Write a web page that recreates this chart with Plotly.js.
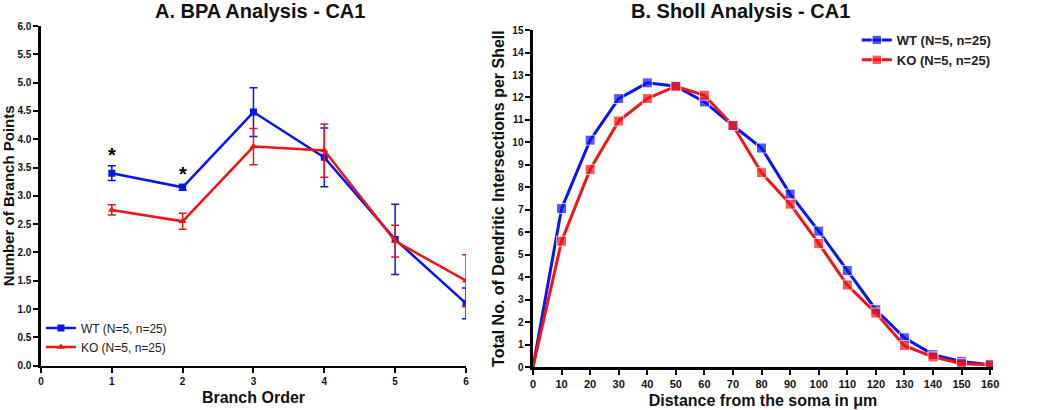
<!DOCTYPE html>
<html><head><meta charset="utf-8">
<script src="https://cdn.plot.ly/plotly-3.0.1.min.js"></script>
<style>html,body{margin:0;padding:0;background:#fff}#chart{width:1050px;height:410px}</style>
</head><body><div id="chart"></div>
<script>
// Panel A: Branch point analysis
const branchOrder = [1, 2, 3, 4, 5, 6];
const bpaWT = [3.40, 3.15, 4.48, 3.68, 2.23, 1.10];
const bpaWTerr = [0.13, 0.05, 0.43, 0.52, 0.62, 0.27];
const bpaKO = [2.75, 2.55, 3.87, 3.80, 2.20, 1.50];
const bpaKOerr = [0.09, 0.14, 0.32, 0.47, 0.28, 0.46];
const sigOrders = [1, 2];

// Panel B: Sholl analysis
const distance = [0, 10, 20, 30, 40, 50, 60, 70, 80, 90, 100, 110, 120, 130, 140, 150, 160];
const shollWT = [0, 7.05, 10.1, 11.95, 12.65, 12.5, 11.8, 10.75, 9.75, 7.7, 6.05, 4.3, 2.55, 1.3, 0.55, 0.25, 0.1];
const shollKO = [0, 5.6, 8.8, 10.95, 11.95, 12.5, 12.1, 10.75, 8.65, 7.25, 5.5, 3.65, 2.4, 0.95, 0.45, 0.15, 0.1];

const wtName = 'WT (N=5, n=25)';
const koName = 'KO (N=5, n=25)';
const BLUE = '#0a14f5', RED = '#f51414';
const FONT = 'Liberation Sans, Arial, sans-serif';

const traces = [
  {x: branchOrder, y: bpaWT, name: wtName, type: 'scatter', mode: 'lines+markers',
   line: {color: BLUE, width: 2.5}, marker: {symbol: 'square', size: 7, color: BLUE},
   error_y: {type: 'data', array: bpaWTerr, color: BLUE, thickness: 1.5, width: 4},
   xaxis: 'x', yaxis: 'y', legend: 'legend'},
  {x: branchOrder, y: bpaKO, name: koName, type: 'scatter', mode: 'lines+markers',
   line: {color: RED, width: 2.5}, marker: {symbol: 'triangle-up', size: 7, color: RED},
   error_y: {type: 'data', array: bpaKOerr, color: RED, thickness: 1.5, width: 4},
   xaxis: 'x', yaxis: 'y', legend: 'legend'},
  {x: distance, y: shollWT, name: wtName, type: 'scatter', mode: 'lines+markers',
   line: {color: BLUE, width: 3}, marker: {symbol: 'square', size: distance.map(d => d === 0 ? 0 : 10), color: BLUE},
   xaxis: 'x2', yaxis: 'y2', legend: 'legend2'},
  {x: distance, y: shollKO, name: koName, type: 'scatter', mode: 'lines+markers',
   line: {color: RED, width: 3}, marker: {symbol: 'square', size: distance.map(d => d === 0 ? 0 : 10), color: RED},
   xaxis: 'x2', yaxis: 'y2', legend: 'legend2'}
];

const tickFont = {family: FONT, size: 10, color: '#111', weight: 'bold'};
const tickFont2 = {family: FONT, size: 11, color: '#111', weight: 'bold'};
const titleFont = {family: FONT, size: 15, color: '#111', weight: 'bold'};
const titleFontX = {family: FONT, size: 16, color: '#111', weight: 'bold'};
const titleFont2 = {family: FONT, size: 16, color: '#111', weight: 'bold'};
const axisCommon = {showline: true, linecolor: '#000', linewidth: 2.5, ticks: 'outside', ticklen: 5,
  tickwidth: 2, tickcolor: '#000', showgrid: false, zeroline: false, tickfont: tickFont, fixedrange: true};

const sigAnn = sigOrders.map(o => {
  const i = branchOrder.indexOf(o);
  return {x: o, y: bpaWT[i] + bpaWTerr[i], xref: 'x', yref: 'y', text: '*', showarrow: false,
    yanchor: 'bottom', yshift: -2, font: {family: FONT, size: 20, color: '#000', weight: 'bold'}};
});

const layout = {
  width: 1050, height: 410,
  margin: {l: 0, r: 0, t: 26, b: 43},
  paper_bgcolor: '#fff', plot_bgcolor: '#fff',
  showlegend: true,
  xaxis: Object.assign({}, axisCommon, {domain: [0.039, 0.4438], range: [0, 6], tickvals: [0,1,2,3,4,5,6],
    title: {text: 'Branch Order', font: titleFontX, standoff: 6}, anchor: 'y'}),
  yaxis: Object.assign({}, axisCommon, {domain: [0.004, 1], range: [0, 6], tickvals: [0,0.5,1,1.5,2,2.5,3,3.5,4,4.5,5,5.5,6],
    ticktext: ['0.0','0.5','1.0','1.5','2.0','2.5','3.0','3.5','4.0','4.5','5.0','5.5','6.0'],
    title: {text: 'Number of Branch Points', font: titleFont, standoff: 4}, anchor: 'x'}),
  xaxis2: Object.assign({}, axisCommon, {domain: [0.5076, 0.9457], range: [0, 161], dtick: 10, tick0: 0, tickfont: tickFont2,
    title: {text: 'Distance from the soma in μm', font: titleFont2, standoff: 6}, anchor: 'y2'}),
  yaxis2: Object.assign({}, axisCommon, {domain: [0, 0.988], range: [0, 15], dtick: 1, tick0: 0,
    title: {text: 'Total No. of Dendritic Intersections per Shell', font: titleFont2, standoff: 4}, anchor: 'x2'}),
  legend: {x: 0.039, y: 0.157, xanchor: 'left', yanchor: 'top', bgcolor: 'rgba(0,0,0,0)',
    font: {family: FONT, size: 12, color: '#222'}, tracegroupgap: 0, itemwidth: 30},
  legend2: {x: 0.816, y: 1.003, xanchor: 'left', yanchor: 'top', bgcolor: 'rgba(0,0,0,0)',
    font: {family: FONT, size: 13, color: '#222', weight: 'bold'}, tracegroupgap: 0, itemwidth: 30},
  annotations: [
    {text: 'A. BPA Analysis - CA1', x: 0.248, y: 1, xref: 'paper', yref: 'paper', xanchor: 'center', yanchor: 'bottom', yshift: 2,
     showarrow: false, font: {family: FONT, size: 20, color: '#111', weight: 'bold'}},
    {text: 'B. Sholl Analysis - CA1', x: 0.705, y: 1, xref: 'paper', yref: 'paper', xanchor: 'center', yanchor: 'bottom', yshift: 2,
     showarrow: false, font: {family: FONT, size: 20, color: '#111', weight: 'bold'}}
  ].concat(sigAnn)
};

Plotly.newPlot('chart', traces, layout, {displayModeBar: false, staticPlot: true});
</script></body></html>
